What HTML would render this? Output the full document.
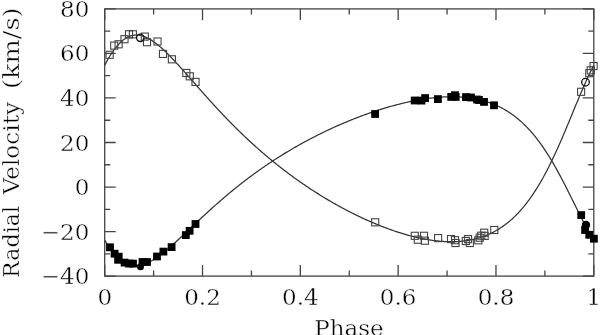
<!DOCTYPE html>
<html><head><meta charset="utf-8"><title>Radial Velocity</title>
<style>html,body{margin:0;padding:0;background:#fff;}svg{display:block;}</style></head>
<body><svg width="600" height="335" viewBox="0 0 600 335">
<rect width="600" height="335" fill="#fff"/>
<rect x="104.7" y="8.9" width="489.1" height="267.2" fill="none" stroke="#444" stroke-width="1.3"/>
<path d="M104.7,276.1v-11M104.7,8.9v11M153.61,276.1v-5.5M153.61,8.9v5.5M202.52,276.1v-11M202.52,8.9v11M251.43,276.1v-5.5M251.43,8.9v5.5M300.34,276.1v-11M300.34,8.9v11M349.25,276.1v-5.5M349.25,8.9v5.5M398.16,276.1v-11M398.16,8.9v11M447.07,276.1v-5.5M447.07,8.9v5.5M495.98,276.1v-11M495.98,8.9v11M544.89,276.1v-5.5M544.89,8.9v5.5M593.8,276.1v-11M593.8,8.9v11M104.7,8.9h11M593.8,8.9h-11M104.7,31.17h5.5M593.8,31.17h-5.5M104.7,53.43h11M593.8,53.43h-11M104.7,75.7h5.5M593.8,75.7h-5.5M104.7,97.97h11M593.8,97.97h-11M104.7,120.23h5.5M593.8,120.23h-5.5M104.7,142.5h11M593.8,142.5h-11M104.7,164.77h5.5M593.8,164.77h-5.5M104.7,187.03h11M593.8,187.03h-11M104.7,209.3h5.5M593.8,209.3h-5.5M104.7,231.57h11M593.8,231.57h-11M104.7,253.83h5.5M593.8,253.83h-5.5M104.7,276.1h11M593.8,276.1h-11" fill="none" stroke="#444" stroke-width="1.3"/>
<path d="M104.7,65.19 L105.52,63.66 L106.33,62.17 L107.15,60.7 L107.97,59.28 L108.78,57.89 L109.6,56.53 L110.42,55.22 L111.23,53.95 L112.05,52.71 L112.87,51.52 L113.68,50.36 L114.5,49.25 L115.31,48.18 L116.13,47.15 L116.95,46.16 L117.76,45.22 L118.58,44.31 L119.4,43.46 L120.21,42.64 L121.03,41.87 L121.85,41.14 L122.66,40.45 L123.48,39.81 L124.3,39.21 L125.11,38.65 L125.93,38.13 L126.75,37.66 L127.56,37.22 L128.38,36.83 L129.2,36.48 L130.01,36.17 L130.83,35.9 L131.65,35.66 L132.46,35.47 L133.28,35.31 L134.09,35.2 L134.91,35.11 L135.73,35.07 L136.54,35.06 L137.36,35.08 L138.18,35.14 L138.99,35.23 L139.81,35.36 L140.63,35.51 L141.44,35.7 L142.26,35.92 L143.08,36.16 L143.89,36.44 L144.71,36.74 L145.53,37.07 L146.34,37.43 L147.16,37.81 L147.98,38.22 L148.79,38.65 L149.61,39.11 L150.43,39.59 L151.24,40.09 L152.06,40.61 L152.88,41.15 L153.69,41.72 L154.51,42.3 L155.32,42.9 L156.14,43.52 L156.96,44.15 L157.77,44.8 L158.59,45.47 L159.41,46.15 L160.22,46.85 L161.04,47.56 L161.86,48.29 L162.67,49.03 L163.49,49.78 L164.31,50.54 L165.12,51.31 L165.94,52.1 L166.76,52.89 L167.57,53.7 L168.39,54.51 L169.21,55.34 L170.02,56.17 L170.84,57.01 L171.66,57.85 L172.47,58.71 L173.29,59.57 L174.1,60.44 L174.92,61.31 L175.74,62.19 L176.55,63.07 L177.37,63.96 L178.19,64.85 L179,65.75 L179.82,66.65 L180.64,67.56 L181.45,68.47 L182.27,69.38 L183.09,70.29 L183.9,71.21 L184.72,72.13 L185.54,73.05 L186.35,73.98 L187.17,74.9 L187.99,75.83 L188.8,76.75 L189.62,77.68 L190.44,78.61 L191.25,79.54 L192.07,80.47 L192.88,81.4 L193.7,82.33 L194.52,83.26 L195.33,84.19 L196.15,85.12 L196.97,86.05 L197.78,86.97 L198.6,87.9 L199.42,88.83 L200.23,89.75 L201.05,90.68 L201.87,91.6 L202.68,92.52 L203.5,93.44 L204.32,94.36 L205.13,95.27 L205.95,96.19 L206.77,97.1 L207.58,98.01 L208.4,98.92 L209.22,99.82 L210.03,100.73 L210.85,101.63 L211.67,102.53 L212.48,103.42 L213.3,104.32 L214.11,105.21 L214.93,106.1 L215.75,106.99 L216.56,107.87 L217.38,108.75 L218.2,109.63 L219.01,110.51 L219.83,111.38 L220.65,112.25 L221.46,113.12 L222.28,113.98 L223.1,114.84 L223.91,115.7 L224.73,116.55 L225.55,117.41 L226.36,118.25 L227.18,119.1 L228,119.94 L228.81,120.78 L229.63,121.62 L230.45,122.45 L231.26,123.28 L232.08,124.11 L232.89,124.93 L233.71,125.75 L234.53,126.57 L235.34,127.38 L236.16,128.2 L236.98,129 L237.79,129.81 L238.61,130.61 L239.43,131.41 L240.24,132.2 L241.06,132.99 L241.88,133.78 L242.69,134.56 L243.51,135.35 L244.33,136.12 L245.14,136.9 L245.96,137.67 L246.78,138.44 L247.59,139.2 L248.41,139.96 L249.23,140.72 L250.04,141.48 L250.86,142.23 L251.67,142.98 L252.49,143.72 L253.31,144.47 L254.12,145.21 L254.94,145.94 L255.76,146.67 L256.57,147.4 L257.39,148.13 L258.21,148.85 L259.02,149.57 L259.84,150.29 L260.66,151 L261.47,151.71 L262.29,152.42 L263.11,153.12 L263.92,153.82 L264.74,154.52 L265.56,155.22 L266.37,155.91 L267.19,156.6 L268.01,157.28 L268.82,157.96 L269.64,158.64 L270.46,159.32 L271.27,159.99 L272.09,160.66 L272.9,161.33 L273.72,161.99 L274.54,162.65 L275.35,163.31 L276.17,163.97 L276.99,164.62 L277.8,165.27 L278.62,165.91 L279.44,166.56 L280.25,167.2 L281.07,167.83 L281.89,168.47 L282.7,169.1 L283.52,169.73 L284.34,170.35 L285.15,170.97 L285.97,171.59 L286.79,172.21 L287.6,172.83 L288.42,173.44 L289.24,174.05 L290.05,174.65 L290.87,175.25 L291.68,175.85 L292.5,176.45 L293.32,177.05 L294.13,177.64 L294.95,178.23 L295.77,178.81 L296.58,179.4 L297.4,179.98 L298.22,180.56 L299.03,181.13 L299.85,181.7 L300.67,182.27 L301.48,182.84 L302.3,183.41 L303.12,183.97 L303.93,184.53 L304.75,185.08 L305.57,185.64 L306.38,186.19 L307.2,186.74 L308.02,187.28 L308.83,187.83 L309.65,188.37 L310.46,188.91 L311.28,189.44 L312.1,189.98 L312.91,190.51 L313.73,191.04 L314.55,191.56 L315.36,192.08 L316.18,192.6 L317,193.12 L317.81,193.64 L318.63,194.15 L319.45,194.66 L320.26,195.17 L321.08,195.67 L321.9,196.18 L322.71,196.68 L323.53,197.17 L324.35,197.67 L325.16,198.16 L325.98,198.65 L326.8,199.14 L327.61,199.63 L328.43,200.11 L329.25,200.59 L330.06,201.07 L330.88,201.54 L331.69,202.02 L332.51,202.49 L333.33,202.96 L334.14,203.42 L334.96,203.88 L335.78,204.35 L336.59,204.8 L337.41,205.26 L338.23,205.71 L339.04,206.16 L339.86,206.61 L340.68,207.06 L341.49,207.5 L342.31,207.95 L343.13,208.38 L343.94,208.82 L344.76,209.25 L345.58,209.69 L346.39,210.12 L347.21,210.54 L348.03,210.97 L348.84,211.39 L349.66,211.81 L350.47,212.23 L351.29,212.64 L352.11,213.05 L352.92,213.46 L353.74,213.87 L354.56,214.28 L355.37,214.68 L356.19,215.08 L357.01,215.48 L357.82,215.87 L358.64,216.26 L359.46,216.65 L360.27,217.04 L361.09,217.43 L361.91,217.81 L362.72,218.19 L363.54,218.57 L364.36,218.95 L365.17,219.32 L365.99,219.69 L366.81,220.06 L367.62,220.42 L368.44,220.79 L369.25,221.15 L370.07,221.5 L370.89,221.86 L371.7,222.21 L372.52,222.56 L373.34,222.91 L374.15,223.26 L374.97,223.6 L375.79,223.94 L376.6,224.28 L377.42,224.61 L378.24,224.94 L379.05,225.27 L379.87,225.6 L380.69,225.93 L381.5,226.25 L382.32,226.57 L383.14,226.88 L383.95,227.2 L384.77,227.51 L385.59,227.82 L386.4,228.12 L387.22,228.42 L388.04,228.72 L388.85,229.02 L389.67,229.32 L390.48,229.61 L391.3,229.9 L392.12,230.18 L392.93,230.47 L393.75,230.75 L394.57,231.02 L395.38,231.3 L396.2,231.57 L397.02,231.84 L397.83,232.11 L398.65,232.37 L399.47,232.63 L400.28,232.89 L401.1,233.14 L401.92,233.39 L402.73,233.64 L403.55,233.88 L404.37,234.12 L405.18,234.36 L406,234.6 L406.82,234.83 L407.63,235.06 L408.45,235.28 L409.26,235.51 L410.08,235.73 L410.9,235.94 L411.71,236.15 L412.53,236.36 L413.35,236.57 L414.16,236.77 L414.98,236.97 L415.8,237.16 L416.61,237.36 L417.43,237.54 L418.25,237.73 L419.06,237.91 L419.88,238.09 L420.7,238.26 L421.51,238.43 L422.33,238.6 L423.15,238.76 L423.96,238.92 L424.78,239.07 L425.6,239.22 L426.41,239.37 L427.23,239.51 L428.04,239.65 L428.86,239.78 L429.68,239.92 L430.49,240.04 L431.31,240.16 L432.13,240.28 L432.94,240.4 L433.76,240.5 L434.58,240.61 L435.39,240.71 L436.21,240.81 L437.03,240.9 L437.84,240.98 L438.66,241.07 L439.48,241.14 L440.29,241.22 L441.11,241.28 L441.93,241.35 L442.74,241.41 L443.56,241.46 L444.38,241.51 L445.19,241.55 L446.01,241.59 L446.83,241.62 L447.64,241.65 L448.46,241.67 L449.27,241.69 L450.09,241.7 L450.91,241.7 L451.72,241.7 L452.54,241.7 L453.36,241.69 L454.17,241.67 L454.99,241.65 L455.81,241.62 L456.62,241.58 L457.44,241.54 L458.26,241.49 L459.07,241.44 L459.89,241.38 L460.71,241.31 L461.52,241.24 L462.34,241.16 L463.16,241.07 L463.97,240.98 L464.79,240.88 L465.61,240.77 L466.42,240.65 L467.24,240.53 L468.05,240.4 L468.87,240.27 L469.69,240.12 L470.5,239.97 L471.32,239.81 L472.14,239.64 L472.95,239.47 L473.77,239.28 L474.59,239.09 L475.4,238.89 L476.22,238.68 L477.04,238.46 L477.85,238.24 L478.67,238 L479.49,237.76 L480.3,237.5 L481.12,237.24 L481.94,236.97 L482.75,236.69 L483.57,236.4 L484.39,236.1 L485.2,235.79 L486.02,235.47 L486.83,235.14 L487.65,234.8 L488.47,234.44 L489.28,234.08 L490.1,233.71 L490.92,233.33 L491.73,232.93 L492.55,232.52 L493.37,232.11 L494.18,231.68 L495,231.24 L495.82,230.78 L496.63,230.32 L497.45,229.84 L498.27,229.35 L499.08,228.85 L499.9,228.33 L500.72,227.8 L501.53,227.26 L502.35,226.7 L503.17,226.13 L503.98,225.55 L504.8,224.95 L505.62,224.34 L506.43,223.72 L507.25,223.08 L508.06,222.42 L508.88,221.75 L509.7,221.07 L510.51,220.37 L511.33,219.65 L512.15,218.92 L512.96,218.17 L513.78,217.41 L514.6,216.63 L515.41,215.83 L516.23,215.01 L517.05,214.18 L517.86,213.34 L518.68,212.47 L519.5,211.59 L520.31,210.68 L521.13,209.77 L521.95,208.83 L522.76,207.87 L523.58,206.9 L524.4,205.9 L525.21,204.89 L526.03,203.86 L526.84,202.81 L527.66,201.74 L528.48,200.65 L529.29,199.54 L530.11,198.41 L530.93,197.26 L531.74,196.09 L532.56,194.89 L533.38,193.68 L534.19,192.45 L535.01,191.2 L535.83,189.92 L536.64,188.63 L537.46,187.31 L538.28,185.97 L539.09,184.61 L539.91,183.23 L540.73,181.83 L541.54,180.41 L542.36,178.97 L543.18,177.5 L543.99,176.02 L544.81,174.51 L545.62,172.98 L546.44,171.44 L547.26,169.87 L548.07,168.28 L548.89,166.67 L549.71,165.04 L550.52,163.39 L551.34,161.72 L552.16,160.03 L552.97,158.32 L553.79,156.59 L554.61,154.85 L555.42,153.08 L556.24,151.3 L557.06,149.5 L557.87,147.69 L558.69,145.86 L559.51,144.01 L560.32,142.15 L561.14,140.28 L561.96,138.39 L562.77,136.49 L563.59,134.58 L564.41,132.66 L565.22,130.72 L566.04,128.78 L566.85,126.83 L567.67,124.87 L568.49,122.9 L569.3,120.93 L570.12,118.95 L570.94,116.98 L571.75,114.99 L572.57,113.01 L573.39,111.03 L574.2,109.04 L575.02,107.07 L575.84,105.09 L576.65,103.12 L577.47,101.15 L578.29,99.19 L579.1,97.25 L579.92,95.31 L580.74,93.38 L581.55,91.47 L582.37,89.57 L583.19,87.68 L584,85.81 L584.82,83.96 L585.63,82.13 L586.45,80.32 L587.27,78.54 L588.08,76.77 L588.9,75.04 L589.72,73.32 L590.53,71.64 L591.35,69.98 L592.17,68.35 L592.98,66.76 L593.8,65.19" fill="none" stroke="#333" stroke-width="1.25"/>
<path d="M104.7,240.31 L105.52,241.6 L106.33,242.87 L107.15,244.1 L107.97,245.31 L108.78,246.48 L109.6,247.62 L110.42,248.73 L111.23,249.81 L112.05,250.85 L112.87,251.86 L113.68,252.83 L114.5,253.77 L115.31,254.67 L116.13,255.53 L116.95,256.36 L117.76,257.16 L118.58,257.91 L119.4,258.63 L120.21,259.31 L121.03,259.96 L121.85,260.57 L122.66,261.14 L123.48,261.67 L124.3,262.17 L125.11,262.63 L125.93,263.05 L126.75,263.44 L127.56,263.8 L128.38,264.11 L129.2,264.4 L130.01,264.64 L130.83,264.86 L131.65,265.04 L132.46,265.19 L133.28,265.3 L134.09,265.39 L134.91,265.44 L135.73,265.46 L136.54,265.45 L137.36,265.41 L138.18,265.35 L138.99,265.25 L139.81,265.13 L140.63,264.98 L141.44,264.8 L142.26,264.6 L143.08,264.37 L143.89,264.12 L144.71,263.85 L145.53,263.55 L146.34,263.23 L147.16,262.89 L147.98,262.53 L148.79,262.14 L149.61,261.74 L150.43,261.32 L151.24,260.88 L152.06,260.43 L152.88,259.95 L153.69,259.46 L154.51,258.96 L155.32,258.44 L156.14,257.9 L156.96,257.35 L157.77,256.79 L158.59,256.22 L159.41,255.63 L160.22,255.03 L161.04,254.42 L161.86,253.8 L162.67,253.16 L163.49,252.52 L164.31,251.87 L165.12,251.21 L165.94,250.54 L166.76,249.87 L167.57,249.18 L168.39,248.49 L169.21,247.79 L170.02,247.09 L170.84,246.38 L171.66,245.66 L172.47,244.94 L173.29,244.21 L174.1,243.48 L174.92,242.74 L175.74,242 L176.55,241.26 L177.37,240.51 L178.19,239.76 L179,239.01 L179.82,238.25 L180.64,237.49 L181.45,236.73 L182.27,235.97 L183.09,235.2 L183.9,234.43 L184.72,233.67 L185.54,232.9 L186.35,232.13 L187.17,231.36 L187.99,230.58 L188.8,229.81 L189.62,229.04 L190.44,228.27 L191.25,227.5 L192.07,226.72 L192.88,225.95 L193.7,225.18 L194.52,224.41 L195.33,223.64 L196.15,222.87 L196.97,222.1 L197.78,221.33 L198.6,220.57 L199.42,219.8 L200.23,219.04 L201.05,218.28 L201.87,217.52 L202.68,216.76 L203.5,216 L204.32,215.24 L205.13,214.49 L205.95,213.74 L206.77,212.99 L207.58,212.24 L208.4,211.49 L209.22,210.75 L210.03,210.01 L210.85,209.27 L211.67,208.53 L212.48,207.79 L213.3,207.06 L214.11,206.33 L214.93,205.6 L215.75,204.88 L216.56,204.15 L217.38,203.43 L218.2,202.71 L219.01,202 L219.83,201.29 L220.65,200.58 L221.46,199.87 L222.28,199.16 L223.1,198.46 L223.91,197.76 L224.73,197.07 L225.55,196.37 L226.36,195.68 L227.18,194.99 L228,194.31 L228.81,193.62 L229.63,192.94 L230.45,192.26 L231.26,191.59 L232.08,190.92 L232.89,190.25 L233.71,189.58 L234.53,188.92 L235.34,188.26 L236.16,187.6 L236.98,186.95 L237.79,186.29 L238.61,185.65 L239.43,185 L240.24,184.36 L241.06,183.72 L241.88,183.08 L242.69,182.44 L243.51,181.81 L244.33,181.18 L245.14,180.55 L245.96,179.93 L246.78,179.31 L247.59,178.69 L248.41,178.08 L249.23,177.46 L250.04,176.85 L250.86,176.25 L251.67,175.64 L252.49,175.04 L253.31,174.44 L254.12,173.85 L254.94,173.25 L255.76,172.66 L256.57,172.08 L257.39,171.49 L258.21,170.91 L259.02,170.33 L259.84,169.75 L260.66,169.18 L261.47,168.61 L262.29,168.04 L263.11,167.47 L263.92,166.91 L264.74,166.35 L265.56,165.79 L266.37,165.23 L267.19,164.68 L268.01,164.13 L268.82,163.58 L269.64,163.04 L270.46,162.49 L271.27,161.95 L272.09,161.41 L272.9,160.88 L273.72,160.35 L274.54,159.82 L275.35,159.29 L276.17,158.76 L276.99,158.24 L277.8,157.72 L278.62,157.2 L279.44,156.69 L280.25,156.17 L281.07,155.66 L281.89,155.16 L282.7,154.65 L283.52,154.15 L284.34,153.65 L285.15,153.15 L285.97,152.65 L286.79,152.16 L287.6,151.67 L288.42,151.18 L289.24,150.69 L290.05,150.21 L290.87,149.72 L291.68,149.24 L292.5,148.77 L293.32,148.29 L294.13,147.82 L294.95,147.35 L295.77,146.88 L296.58,146.41 L297.4,145.95 L298.22,145.49 L299.03,145.03 L299.85,144.57 L300.67,144.12 L301.48,143.66 L302.3,143.21 L303.12,142.76 L303.93,142.32 L304.75,141.87 L305.57,141.43 L306.38,140.99 L307.2,140.55 L308.02,140.12 L308.83,139.68 L309.65,139.25 L310.46,138.82 L311.28,138.4 L312.1,137.97 L312.91,137.55 L313.73,137.13 L314.55,136.71 L315.36,136.29 L316.18,135.88 L317,135.46 L317.81,135.05 L318.63,134.65 L319.45,134.24 L320.26,133.83 L321.08,133.43 L321.9,133.03 L322.71,132.63 L323.53,132.24 L324.35,131.84 L325.16,131.45 L325.98,131.06 L326.8,130.67 L327.61,130.29 L328.43,129.9 L329.25,129.52 L330.06,129.14 L330.88,128.76 L331.69,128.38 L332.51,128.01 L333.33,127.64 L334.14,127.27 L334.96,126.9 L335.78,126.53 L336.59,126.17 L337.41,125.81 L338.23,125.44 L339.04,125.09 L339.86,124.73 L340.68,124.37 L341.49,124.02 L342.31,123.67 L343.13,123.32 L343.94,122.98 L344.76,122.63 L345.58,122.29 L346.39,121.95 L347.21,121.61 L348.03,121.27 L348.84,120.93 L349.66,120.6 L350.47,120.27 L351.29,119.94 L352.11,119.61 L352.92,119.29 L353.74,118.96 L354.56,118.64 L355.37,118.32 L356.19,118 L357.01,117.69 L357.82,117.37 L358.64,117.06 L359.46,116.75 L360.27,116.44 L361.09,116.14 L361.91,115.83 L362.72,115.53 L363.54,115.23 L364.36,114.93 L365.17,114.64 L365.99,114.34 L366.81,114.05 L367.62,113.76 L368.44,113.47 L369.25,113.19 L370.07,112.9 L370.89,112.62 L371.7,112.34 L372.52,112.06 L373.34,111.78 L374.15,111.51 L374.97,111.24 L375.79,110.97 L376.6,110.7 L377.42,110.43 L378.24,110.17 L379.05,109.91 L379.87,109.65 L380.69,109.39 L381.5,109.13 L382.32,108.88 L383.14,108.63 L383.95,108.38 L384.77,108.13 L385.59,107.89 L386.4,107.65 L387.22,107.4 L388.04,107.17 L388.85,106.93 L389.67,106.7 L390.48,106.46 L391.3,106.23 L392.12,106.01 L392.93,105.78 L393.75,105.56 L394.57,105.34 L395.38,105.12 L396.2,104.9 L397.02,104.69 L397.83,104.48 L398.65,104.27 L399.47,104.06 L400.28,103.86 L401.1,103.66 L401.92,103.46 L402.73,103.26 L403.55,103.06 L404.37,102.87 L405.18,102.68 L406,102.49 L406.82,102.31 L407.63,102.13 L408.45,101.95 L409.26,101.77 L410.08,101.59 L410.9,101.42 L411.71,101.25 L412.53,101.09 L413.35,100.92 L414.16,100.76 L414.98,100.6 L415.8,100.45 L416.61,100.29 L417.43,100.14 L418.25,99.99 L419.06,99.85 L419.88,99.71 L420.7,99.57 L421.51,99.43 L422.33,99.3 L423.15,99.17 L423.96,99.04 L424.78,98.92 L425.6,98.8 L426.41,98.68 L427.23,98.56 L428.04,98.45 L428.86,98.34 L429.68,98.24 L430.49,98.13 L431.31,98.04 L432.13,97.94 L432.94,97.85 L433.76,97.76 L434.58,97.67 L435.39,97.59 L436.21,97.51 L437.03,97.44 L437.84,97.37 L438.66,97.3 L439.48,97.24 L440.29,97.18 L441.11,97.12 L441.93,97.07 L442.74,97.02 L443.56,96.97 L444.38,96.93 L445.19,96.89 L446.01,96.86 L446.83,96.83 L447.64,96.81 L448.46,96.79 L449.27,96.77 L450.09,96.76 L450.91,96.75 L451.72,96.75 L452.54,96.75 L453.36,96.75 L454.17,96.76 L454.99,96.78 L455.81,96.8 L456.62,96.82 L457.44,96.85 L458.26,96.88 L459.07,96.92 L459.89,96.97 L460.71,97.01 L461.52,97.07 L462.34,97.13 L463.16,97.19 L463.97,97.26 L464.79,97.34 L465.61,97.42 L466.42,97.51 L467.24,97.6 L468.05,97.7 L468.87,97.8 L469.69,97.91 L470.5,98.02 L471.32,98.15 L472.14,98.27 L472.95,98.41 L473.77,98.55 L474.59,98.7 L475.4,98.85 L476.22,99.01 L477.04,99.18 L477.85,99.35 L478.67,99.53 L479.49,99.72 L480.3,99.91 L481.12,100.12 L481.94,100.33 L482.75,100.54 L483.57,100.77 L484.39,101 L485.2,101.24 L486.02,101.49 L486.83,101.75 L487.65,102.01 L488.47,102.28 L489.28,102.56 L490.1,102.85 L490.92,103.15 L491.73,103.46 L492.55,103.77 L493.37,104.1 L494.18,104.43 L495,104.78 L495.82,105.13 L496.63,105.49 L497.45,105.87 L498.27,106.25 L499.08,106.64 L499.9,107.04 L500.72,107.46 L501.53,107.88 L502.35,108.32 L503.17,108.76 L503.98,109.22 L504.8,109.68 L505.62,110.16 L506.43,110.65 L507.25,111.16 L508.06,111.67 L508.88,112.2 L509.7,112.73 L510.51,113.28 L511.33,113.85 L512.15,114.42 L512.96,115.01 L513.78,115.61 L514.6,116.23 L515.41,116.86 L516.23,117.5 L517.05,118.15 L517.86,118.82 L518.68,119.51 L519.5,120.21 L520.31,120.92 L521.13,121.65 L521.95,122.39 L522.76,123.14 L523.58,123.92 L524.4,124.7 L525.21,125.51 L526.03,126.33 L526.84,127.16 L527.66,128.01 L528.48,128.88 L529.29,129.76 L530.11,130.66 L530.93,131.58 L531.74,132.51 L532.56,133.46 L533.38,134.43 L534.19,135.41 L535.01,136.41 L535.83,137.43 L536.64,138.47 L537.46,139.52 L538.28,140.6 L539.09,141.69 L539.91,142.79 L540.73,143.92 L541.54,145.06 L542.36,146.22 L543.18,147.4 L543.99,148.6 L544.81,149.81 L545.62,151.05 L546.44,152.3 L547.26,153.57 L548.07,154.85 L548.89,156.15 L549.71,157.48 L550.52,158.81 L551.34,160.17 L552.16,161.54 L552.97,162.93 L553.79,164.34 L554.61,165.76 L555.42,167.19 L556.24,168.65 L557.06,170.12 L557.87,171.6 L558.69,173.1 L559.51,174.61 L560.32,176.13 L561.14,177.67 L561.96,179.22 L562.77,180.78 L563.59,182.35 L564.41,183.94 L565.22,185.53 L566.04,187.14 L566.85,188.75 L567.67,190.37 L568.49,191.99 L569.3,193.63 L570.12,195.26 L570.94,196.91 L571.75,198.55 L572.57,200.2 L573.39,201.85 L574.2,203.5 L575.02,205.15 L575.84,206.8 L576.65,208.44 L577.47,210.08 L578.29,211.72 L579.1,213.35 L579.92,214.97 L580.74,216.59 L581.55,218.19 L582.37,219.79 L583.19,221.37 L584,222.94 L584.82,224.49 L585.63,226.03 L586.45,227.55 L587.27,229.06 L588.08,230.54 L588.9,232.01 L589.72,233.45 L590.53,234.87 L591.35,236.27 L592.17,237.64 L592.98,238.99 L593.8,240.31" fill="none" stroke="#333" stroke-width="1.25"/>
<g fill="none" stroke="#444" stroke-width="1.1"><rect x="106.05" y="51.25" width="7.1" height="7.1"/><rect x="110.65" y="42.05" width="7.1" height="7.1"/><rect x="115.05" y="40.75" width="7.1" height="7.1"/><rect x="120.95" y="35.65" width="7.1" height="7.1"/><rect x="125.45" y="30.75" width="7.1" height="7.1"/><rect x="129.35" y="30.75" width="7.1" height="7.1"/><rect x="141.25" y="33.05" width="7.1" height="7.1"/><rect x="143.45" y="38.65" width="7.1" height="7.1"/><rect x="153.95" y="37.95" width="7.1" height="7.1"/><rect x="159.45" y="50.35" width="7.1" height="7.1"/><rect x="168.35" y="55.75" width="7.1" height="7.1"/><rect x="182.75" y="69.45" width="7.1" height="7.1"/><rect x="186.25" y="72.75" width="7.1" height="7.1"/><rect x="191.95" y="78.35" width="7.1" height="7.1"/><rect x="371.65" y="218.75" width="7.1" height="7.1"/><rect x="411.25" y="232.25" width="7.1" height="7.1"/><rect x="414.25" y="236.15" width="7.1" height="7.1"/><rect x="420.45" y="232.25" width="7.1" height="7.1"/><rect x="421.35" y="237.15" width="7.1" height="7.1"/><rect x="434.55" y="234.55" width="7.1" height="7.1"/><rect x="447.45" y="235.55" width="7.1" height="7.1"/><rect x="451.45" y="236.65" width="7.1" height="7.1"/><rect x="451.95" y="239.45" width="7.1" height="7.1"/><rect x="462.25" y="237.45" width="7.1" height="7.1"/><rect x="464.45" y="235.55" width="7.1" height="7.1"/><rect x="466.25" y="239.45" width="7.1" height="7.1"/><rect x="474.75" y="236.75" width="7.1" height="7.1"/><rect x="476.15" y="234.15" width="7.1" height="7.1"/><rect x="477.75" y="232.15" width="7.1" height="7.1"/><rect x="480.65" y="229.15" width="7.1" height="7.1"/><rect x="481.05" y="232.35" width="7.1" height="7.1"/><rect x="490.75" y="226.45" width="7.1" height="7.1"/><rect x="577.55" y="88.25" width="7.1" height="7.1"/><rect x="585.75" y="69.65" width="7.1" height="7.1"/><rect x="587.25" y="66.75" width="7.1" height="7.1"/><rect x="590.05" y="62.45" width="7.1" height="7.1"/></g>
<g fill="#000"><rect x="106.1" y="243.4" width="7.8" height="7.8"/><rect x="110.7" y="249.8" width="7.8" height="7.8"/><rect x="114.8" y="252.8" width="7.8" height="7.8"/><rect x="114.2" y="255.9" width="7.8" height="7.8"/><rect x="120.7" y="258.7" width="7.8" height="7.8"/><rect x="125.2" y="259.7" width="7.8" height="7.8"/><rect x="129.1" y="259.7" width="7.8" height="7.8"/><rect x="138.6" y="258.1" width="7.8" height="7.8"/><rect x="143.1" y="258.1" width="7.8" height="7.8"/><rect x="153.1" y="252.6" width="7.8" height="7.8"/><rect x="159.5" y="247.7" width="7.8" height="7.8"/><rect x="167.7" y="243.2" width="7.8" height="7.8"/><rect x="181.9" y="231.2" width="7.8" height="7.8"/><rect x="185.7" y="226.9" width="7.8" height="7.8"/><rect x="191.6" y="220.1" width="7.8" height="7.8"/><rect x="371.2" y="110.1" width="7.8" height="7.8"/><rect x="410.8" y="96.6" width="7.8" height="7.8"/><rect x="417.6" y="96.7" width="7.8" height="7.8"/><rect x="421.2" y="94.2" width="7.8" height="7.8"/><rect x="434" y="95.2" width="7.8" height="7.8"/><rect x="447.3" y="93" width="7.8" height="7.8"/><rect x="451.1" y="91.3" width="7.8" height="7.8"/><rect x="451.8" y="93" width="7.8" height="7.8"/><rect x="462.1" y="93.2" width="7.8" height="7.8"/><rect x="467.1" y="93.6" width="7.8" height="7.8"/><rect x="473.1" y="95.6" width="7.8" height="7.8"/><rect x="475.1" y="96.1" width="7.8" height="7.8"/><rect x="480.1" y="98" width="7.8" height="7.8"/><rect x="490.1" y="101.4" width="7.8" height="7.8"/><rect x="577.3" y="211.2" width="7.8" height="7.8"/><rect x="581.2" y="226.1" width="7.8" height="7.8"/><rect x="585.4" y="230.9" width="7.8" height="7.8"/><rect x="590" y="234.8" width="7.8" height="7.8"/></g>
<g fill="none" stroke="#111" stroke-width="1.3"><circle cx="140.3" cy="37.8" r="3.7"/><circle cx="585.5" cy="82.2" r="3.8"/></g>
<g fill="#000"><circle cx="140.5" cy="266.8" r="3.5"/><circle cx="586" cy="225" r="4.2"/></g>
<g font-family="'DejaVu Serif', 'Liberation Serif', serif" font-size="23" fill="#000" stroke="#fff" stroke-width="0.4"><text x="89.3" y="16.9" text-anchor="end">80</text><text x="89.3" y="61.43" text-anchor="end">60</text><text x="89.3" y="105.97" text-anchor="end">40</text><text x="89.3" y="150.5" text-anchor="end">20</text><text x="89.3" y="195.03" text-anchor="end">0</text><text x="89.3" y="239.57" text-anchor="end">−20</text><text x="89.3" y="284.1" text-anchor="end">−40</text><text x="104.7" y="304.5" text-anchor="middle">0</text><text x="202.52" y="304.5" text-anchor="middle">0.2</text><text x="300.34" y="304.5" text-anchor="middle">0.4</text><text x="398.16" y="304.5" text-anchor="middle">0.6</text><text x="495.98" y="304.5" text-anchor="middle">0.8</text><text x="593.8" y="304.5" text-anchor="middle">1</text><text x="349" y="335.5" text-anchor="middle">Phase</text><text transform="translate(18.7,277.4) rotate(-90)"><tspan x="-0.5" textLength="72" lengthAdjust="spacingAndGlyphs">Radial</tspan><tspan x="83" textLength="92.5" lengthAdjust="spacingAndGlyphs">Velocity</tspan><tspan x="188.5" textLength="81.5" lengthAdjust="spacingAndGlyphs">(km/s)</tspan></text></g>
</svg></body></html>
